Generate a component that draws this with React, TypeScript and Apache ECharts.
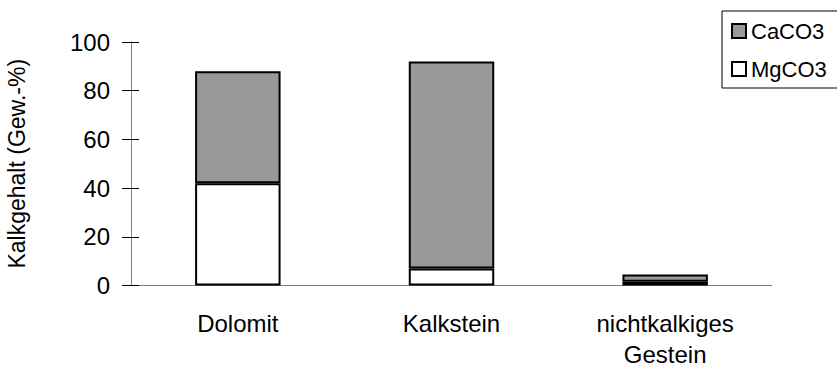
import React, { useEffect, useRef } from "react";
import * as echarts from "echarts";

const categories = ["Dolomit", "Kalkstein", "nichtkalkiges\nGestein"];
const mgco3 = [42, 7, 1.5];
const caco3 = [46, 85, 3];
const yTicks = { min: 0, max: 100, interval: 20 };

export default function App() {
  const ref = useRef<HTMLDivElement>(null);
  useEffect(() => {
    if (!ref.current) return;
    const chart = echarts.init(ref.current, null, { renderer: "svg" });
    const font = "'Liberation Sans', Arial, sans-serif";
    chart.setOption({
      animation: false,
      backgroundColor: "#fff",
      textStyle: { fontFamily: font, color: "#000" },
      grid: {
        left: 131,
        right: 65,
        top: 42,
        bottom: 81.5,
        containLabel: false,
        outerBoundsMode: "none",
      },
      legend: {
        data: ["CaCO3", "MgCO3"],
        orient: "vertical",
        left: 722,
        top: 11,
        itemWidth: 14,
        itemHeight: 14,
        itemGap: 16,
        padding: [9, 40, 8, 9],
        borderColor: "#000",
        borderWidth: 1,
        backgroundColor: "#fff",
        textStyle: { fontSize: 22, color: "#000", fontFamily: font },
        icon: "rect",
      },
      xAxis: {
        type: "category",
        data: categories,
        axisTick: { show: false },
        axisLine: { lineStyle: { color: "#808080", width: 1 } },
        axisLabel: { fontSize: 24, color: "#000", margin: 22, lineHeight: 31, fontFamily: font },
      },
      yAxis: [
        {
          type: "value",
          min: yTicks.min,
          max: yTicks.max,
          interval: yTicks.interval,
          name: "Kalkgehalt (Gew.-%)",
          nameLocation: "middle",
          nameGap: 103,
          nameTextStyle: { fontSize: 23, color: "#000", fontFamily: font },
          splitLine: { show: false },
          axisLine: { show: true, lineStyle: { color: "#808080", width: 1 } },
          axisTick: { show: true, length: 9, lineStyle: { color: "#000" } },
          axisLabel: { fontSize: 24, color: "#000", margin: 21, fontFamily: font },
        },
        {
          type: "value",
          position: "left",
          min: yTicks.min,
          max: yTicks.max,
          interval: yTicks.interval,
          splitLine: { show: false },
          axisLine: { show: false },
          axisTick: { show: true, inside: true, length: 8, lineStyle: { color: "#000" } },
          axisLabel: { show: false },
        },
      ],
      series: [
        {
          name: "MgCO3",
          type: "bar",
          stack: "total",
          data: mgco3,
          barCategoryGap: "60%",
          itemStyle: { color: "#ffffff", borderColor: "#000", borderWidth: 2 },
        },
        {
          name: "CaCO3",
          type: "bar",
          stack: "total",
          data: caco3,
          barCategoryGap: "60%",
          itemStyle: { color: "#999999", borderColor: "#000", borderWidth: 2 },
        },
      ],
    });
    return () => chart.dispose();
  }, []);
  return (
    <div
      ref={ref}
      style={{ position: "fixed", left: 0, top: 0, width: 837, height: 367, background: "#fff" }}
    />
  );
}
